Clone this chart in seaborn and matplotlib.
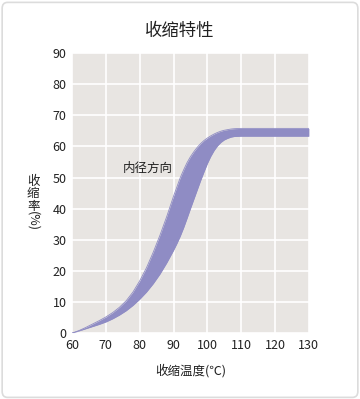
import numpy as np
import pandas as pd
import matplotlib
matplotlib.use("Agg")
import matplotlib.pyplot as plt
import seaborn as sns
from matplotlib.patches import FancyBboxPatch

# 收缩温度 (℃)
temperature = [60, 62, 64, 66, 68, 70, 72, 74, 76, 78, 80, 82, 84, 86, 88,
               90, 91, 92, 93, 94, 95, 96, 97, 98, 99, 100, 101, 102, 103,
               104, 105, 106, 107, 108, 110, 120, 130]
# 上限 (左侧曲线)
upper = [0, 0.8, 1.8, 2.9, 4.0, 5.2, 6.6, 8.3, 10.4, 13.2, 16.8, 21.0, 26.0,
         31.5, 37.5, 44.0, 47.0, 50.0, 52.5, 54.8, 56.7, 58.3, 59.7, 60.9,
         61.9, 62.7, 63.4, 64.0, 64.5, 64.9, 65.2, 65.4, 65.6, 65.7, 65.8,
         65.8, 65.8]
# 下限 (右侧曲线)
lower = [0, 0.7, 1.4, 2.1, 2.8, 3.6, 4.6, 5.8, 7.2, 8.9, 10.9, 13.2, 15.9,
         19.0, 22.6, 26.6, 28.8, 31.2, 33.9, 36.9, 40.0, 43.0, 46.0, 49.0,
         51.8, 54.5, 56.8, 58.7, 60.2, 61.3, 62.1, 62.6, 63.0, 63.2, 63.3,
         63.3, 63.3]

x_ticks = [60, 70, 80, 90, 100, 110, 120, 130]
y_ticks = [0, 10, 20, 30, 40, 50, 60, 70, 80, 90]

df = pd.DataFrame({"temp": temperature, "upper": upper, "lower": lower})

sns.set_theme(style="darkgrid", rc={
    "axes.facecolor": "#e8e5e2",
    "grid.color": "white",
    "grid.linewidth": 1.2,
})
plt.rcParams["font.family"] = ["Noto Sans CJK SC", "DejaVu Sans"]

fig = plt.figure(figsize=(3.6, 3.99), dpi=100)
fig.patch.set_facecolor("white")
fig.patches.append(FancyBboxPatch((0.006, 0.004), 0.988, 0.99,
                                  boxstyle="round,pad=0,rounding_size=0.015",
                                  transform=fig.transFigure, facecolor="white",
                                  edgecolor="#dcdcdc", linewidth=1.2, zorder=-5))

ax = fig.add_axes([0.2, 0.165, 0.658, 0.702])
band = "#8f8cc4"
ax.fill_between(df["temp"], df["lower"], df["upper"], color=band, linewidth=0, zorder=3)
sns.lineplot(data=df, x="temp", y="upper", ax=ax, color=band, linewidth=0.6, zorder=3)
sns.lineplot(data=df, x="temp", y="lower", ax=ax, color=band, linewidth=0.6, zorder=3)

ax.set_xlim(60, 130)
ax.set_ylim(0, 90)
ax.set_xticks(x_ticks)
ax.set_yticks(y_ticks)
ax.tick_params(axis="both", length=0, labelsize=9, colors="#222222", pad=4)
ax.set_xlabel("")
ax.set_ylabel("")
for s in ax.spines.values():
    s.set_visible(False)

ax.text(75, 53, "内径方向", fontsize=9, color="#222222", va="center", ha="left", zorder=4)

fig.text(0.5, 0.922, "收缩特性", fontsize=12.5, ha="center", va="center", color="#222222")
fig.text(0.529, 0.072, "收缩温度(℃)", fontsize=9, ha="center", va="center", color="#222222")
fig.text(0.092, 0.515, "收\n缩\n率", fontsize=9, ha="center", va="center",
         color="#222222", linespacing=0.95)
fig.text(0.092, 0.445, "(%)", fontsize=9, ha="center", va="center",
         color="#222222", rotation=270)

fig.savefig("out.png", dpi=100)
